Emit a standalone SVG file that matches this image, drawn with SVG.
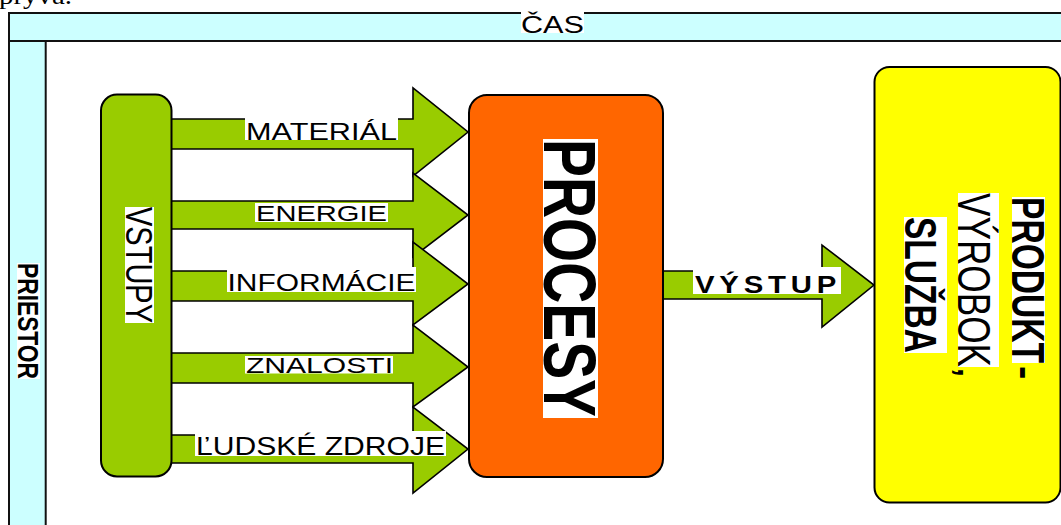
<svg xmlns="http://www.w3.org/2000/svg" width="1061" height="525" viewBox="0 0 1061 525">
  <style>
    .frame { fill: #CCFFFF; stroke: #111; stroke-width: 2; }
    .arrow { fill: #99CC00; stroke: #000; stroke-width: 1.6; stroke-linejoin: miter; }
    .bg { fill: #FFFFFF; }
    .lbl { font-family: "Liberation Sans", Arial, sans-serif; fill: #000; }
    .b { font-weight: bold; }
  </style>

  <!-- running text line cut by the top edge -->
  <text x="-1" y="4" font-family="Liberation Serif, Times New Roman, serif" font-size="25" textLength="73" lengthAdjust="spacingAndGlyphs">pryva.</text>

  <!-- time band and space column -->
  <g id="cas">
    <rect class="frame" x="9" y="13" width="1062" height="28"/>
    <rect class="bg" x="521" y="11" width="63" height="22"/>
    <text class="lbl" x="521" y="33.3" font-size="23.5" textLength="63" lengthAdjust="spacingAndGlyphs">ČAS</text>
  </g>
  <g id="priestor">
    <rect class="frame" x="9" y="41" width="36.7" height="500"/>
    <rect class="bg" x="17" y="263" width="23" height="116"/>
    <text class="lbl b" transform="translate(17.5,263) rotate(90)" font-size="30" textLength="116" lengthAdjust="spacingAndGlyphs">PRIESTOR</text>
  </g>

  <!-- flows -->
  <g id="connectors">
    <polygon class="arrow" points="171,119 413,119 413,88 468,132 413,176 413,149 171,149"/>
    <polygon class="arrow" points="171,201 413,201 413,173 468,215 413,257 413,229 171,229"/>
    <polygon class="arrow" points="171,271 413,271 413,242 468,284 413,325 413,301 171,301"/>
    <polygon class="arrow" points="171,353 413,353 413,325 468,367 413,407 413,383 171,383"/>
    <polygon class="arrow" points="171,435 413,435 413,407 468,449 413,493 413,463 171,463"/>
    <polygon class="arrow" points="663,271 822,271 822,245 874,285 822,327 822,299 663,299"/>

    <g id="flow-labels">
      <rect class="bg" x="245" y="117" width="153" height="23"/>
      <text class="lbl" x="246" y="139.5" font-size="23.5" textLength="151" lengthAdjust="spacingAndGlyphs">MATERIÁL</text>

      <rect class="bg" x="255" y="203" width="133" height="19"/>
      <text class="lbl" x="256" y="221" font-size="22" textLength="131" lengthAdjust="spacingAndGlyphs">ENERGIE</text>

      <rect class="bg" x="227" y="267" width="189" height="25"/>
      <text class="lbl" x="227.5" y="291" font-size="24" textLength="188" lengthAdjust="spacingAndGlyphs">INFORMÁCIE</text>

      <rect class="bg" x="245" y="356" width="148" height="17.5"/>
      <text class="lbl" x="246" y="372.7" font-size="21.5" textLength="147" lengthAdjust="spacingAndGlyphs">ZNALOSTI</text>

      <rect class="bg" x="195" y="431" width="251" height="25"/>
      <text class="lbl" x="196" y="455" font-size="25" textLength="249" lengthAdjust="spacingAndGlyphs">ĽUDSKÉ ZDROJE</text>

      <rect class="bg" x="693" y="267" width="148" height="27"/>
      <text class="lbl b" x="695" y="293" font-size="24.5" letter-spacing="4" textLength="146" lengthAdjust="spacingAndGlyphs">VÝSTUP</text>
    </g>
  </g>

  <!-- inputs -->
  <g id="vstupy">
    <rect x="101" y="94.5" width="70.5" height="382" rx="16" ry="16" fill="#99CC00" stroke="#000" stroke-width="2"/>
    <rect class="bg" x="125" y="207" width="29" height="116"/>
    <text class="lbl" transform="translate(126,207) rotate(90)" font-size="37" textLength="116" lengthAdjust="spacingAndGlyphs">VSTUPY</text>
  </g>

  <!-- processes -->
  <g id="procesy">
    <rect x="469" y="95" width="194" height="382" rx="18" ry="18" fill="#FF6600" stroke="#000" stroke-width="2"/>
    <rect class="bg" x="543" y="139" width="55" height="279"/>
    <text class="lbl b" transform="translate(543.5,139) rotate(90)" font-size="75" textLength="278" lengthAdjust="spacingAndGlyphs">PROCESY</text>
  </g>

  <!-- output product -->
  <g id="produkt">
    <rect x="874.5" y="67" width="186" height="435.5" rx="15" ry="15" fill="#FFFF00" stroke="#000" stroke-width="2"/>
    <rect class="bg" x="1012" y="197" width="33" height="166"/>
    <text class="lbl b" transform="translate(1012,197) rotate(90)" font-size="46" textLength="166" lengthAdjust="spacingAndGlyphs">PRODUKT</text>
    <text class="lbl b" transform="translate(1012,366) rotate(90)" font-size="40">-</text>

    <rect class="bg" x="958" y="193" width="41" height="174"/>
    <text class="lbl" transform="translate(958,193) rotate(90)" font-size="46" textLength="174" lengthAdjust="spacingAndGlyphs">VÝROBOK</text>
    <text class="lbl" transform="translate(958,366) rotate(90)" font-size="46">,</text>

    <rect class="bg" x="904" y="217" width="43" height="136"/>
    <text class="lbl b" transform="translate(905,217) rotate(90)" font-size="45" textLength="136" lengthAdjust="spacingAndGlyphs">SLUŽBA</text>
  </g>
</svg>
